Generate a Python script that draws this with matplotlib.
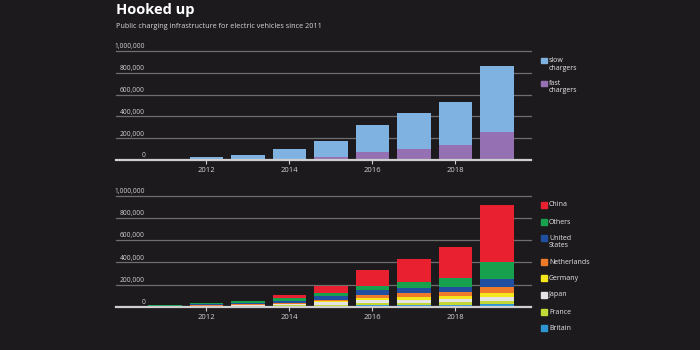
import matplotlib
matplotlib.use("Agg")
import matplotlib.pyplot as plt
import matplotlib.transforms as mtransforms
import numpy as np

plt.rcParams['font.family'] = ['Open Sans', 'DejaVu Sans']

years = [2011, 2012, 2013, 2014, 2015, 2016, 2017, 2018, 2019]

# Top panel (chargers by speed)
slow_total = [10000, 27000, 46000, 100000, 176000, 325000, 432000, 532000, 860000]
fast = [1000, 2000, 4000, 10000, 27000, 73000, 106000, 137000, 258000]
slow = [t - f for t, f in zip(slow_total, fast)]

# Bottom panel (chargers by country), stacked bottom to top
britain     = [1000, 2000, 3000, 6000, 9000, 12000, 14000, 19000, 24000]
france      = [1000, 2000, 5000, 8000, 10000, 17000, 20000, 25000, 30000]
japan       = [1000, 3000, 5000, 11000, 22000, 28000, 29000, 30000, 30000]
germany     = [1000, 2000, 3000, 3000, 6000, 25000, 28000, 25000, 40000]
netherlands = [1000, 3000, 5000, 6000, 17000, 28000, 36000, 37000, 51000]
united_states = [3000, 15000, 16000, 20000, 31000, 39000, 42000, 45000, 78000]
others      = [4000, 5000, 14000, 24000, 30000, 39000, 51000, 78000, 150000]
china       = [1000, 2000, 1000, 30000, 58000, 142000, 211000, 277000, 516000]

country_series = [
    ("Britain", britain, "#2f95d2"),
    ("France", france, "#c3d835"),
    ("Japan", japan, "#e4e4e4"),
    ("Germany", germany, "#f4e51c"),
    ("Netherlands", netherlands, "#ef7a29"),
    ("United\nStates", united_states, "#1f4f9e"),
    ("Others", others, "#17a04e"),
    ("China", china, "#e8202f"),
]

yticks = [0, 200000, 400000, 600000, 800000, 1000000]
ytick_labels = ["0", "200,000", "400,000", "600,000", "800,000", "1,000,000"]
xticks = [2012, 2014, 2016, 2018]

BG = "#1c1a1d"
GRID = "#6e6e6e"
TXT = "#d2d2d2"

fig = plt.figure(figsize=(7, 3.5), dpi=100, facecolor=BG)

W, H = 700.0, 350.0
def axes_rect(x0, x1, y_zero, y_top):
    return [x0 / W, (H - y_zero) / H, (x1 - x0) / W, (y_zero - y_top) / H]

ax1 = fig.add_axes(axes_rect(116, 531, 160.3, 50.7))
ax2 = fig.add_axes(axes_rect(116, 531, 306.7, 196.0))

def style(ax):
    ax.set_facecolor(BG)
    ax.set_xlim(2009.82, 2019.82)
    ax.set_ylim(0, 1000000)
    for s in ax.spines.values():
        s.set_visible(False)
    ax.set_yticks([])
    for v in yticks[1:]:
        ax.axhline(v, color=GRID, lw=0.9, zorder=0, clip_on=False)
    ax.axhline(0, color="#cfcfcf", lw=1.6, zorder=5, clip_on=False)
    trans = mtransforms.blended_transform_factory(ax.transAxes, ax.transData)
    for v, lab in zip(yticks, ytick_labels):
        ax.text(0.07, v + 8000, lab, transform=trans, ha="right", va="bottom",
                fontsize=4.8, color=TXT)
    ax.set_xticks(xticks)
    ax.set_xticklabels([str(x) for x in xticks])
    ax.tick_params(axis="x", colors="#cfcfcf", length=3, width=0.8, pad=2,
                   labelsize=5.5, labelcolor=TXT, direction="out")

style(ax1)
style(ax2)

# Top panel bars
ax1.bar(years, fast, width=0.8, color="#9570b3", zorder=2)
ax1.bar(years, slow, bottom=fast, width=0.8, color="#80b2e1", zorder=2)

# Bottom panel bars
bottom = np.zeros(len(years))
for name, vals, col in country_series:
    ax2.bar(years, vals, bottom=bottom, width=0.8, color=col, zorder=2)
    bottom += np.array(vals)

# Legends (manual)
def legend_item(y_px, label, color):
    fig.patches.append(plt.Rectangle((541 / W, (H - y_px - 2.7) / H), 5.5 / W, 5.5 / H,
                                     transform=fig.transFigure, color=color, figure=fig))
    fig.text(549 / W, (H - y_px + 3.5) / H, label, ha="left", va="top",
             fontsize=5, color="#e6e6e6", linespacing=1.1)

legend_item(60.5, "slow\nchargers", "#80b2e1")
legend_item(83.5, "fast\nchargers", "#9570b3")

legend_rows = [("China", 205), ("Others", 222), ("United\nStates", 238),
               ("Netherlands", 262), ("Germany", 278), ("Japan", 295),
               ("France", 312), ("Britain", 328)]
color_map = {n: c for n, _, c in country_series}
for name, ypx in legend_rows:
    legend_item(ypx, name, color_map[name])

# Titles
fig.text(116 / W, (H - 3) / H, "Hooked up", ha="left", va="top",
         fontsize=10.5, fontweight="bold", color="white")
fig.text(116 / W, (H - 27) / H, "Public charging infrastructure for electric vehicles since 2011",
         ha="left", va="center", fontsize=5.2, color="#d8d8d8")

fig.savefig("out.png", dpi=100, facecolor=BG)
